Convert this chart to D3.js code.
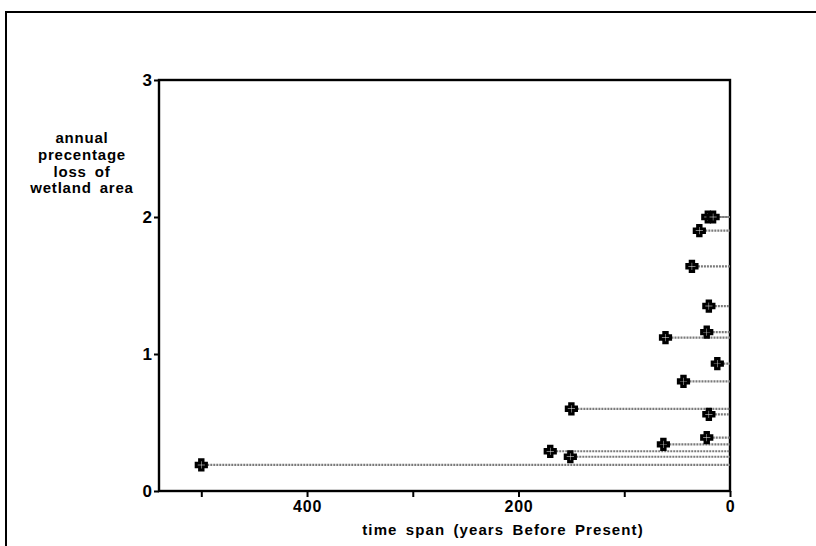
<!DOCTYPE html>
<html>
<head>
<meta charset="utf-8">
<script src="https://cdn.jsdelivr.net/npm/d3@7"></script>
<style>
  body { margin: 0; background: #fff; }
  svg { display: block; }
  text { font-family: "Liberation Sans", Arial, Helvetica, sans-serif; font-weight: bold; fill: #000; }
</style>
</head>
<body>
<div id="chart"></div>
<script>
// start of each time span (years before present) and annual loss (%)
const startYears = [21, 16, 29, 36, 20, 22, 61, 12, 44, 150, 20, 22, 63, 170, 151, 500];
const lossRates = [2.0, 2.0, 1.9, 1.64, 1.35, 1.16, 1.12, 0.93, 0.80, 0.60, 0.56, 0.39, 0.34, 0.29, 0.25, 0.19];
const xTicks = [500, 400, 300, 200, 100, 0];
const xLabelled = [400, 200, 0];
const yTicks = [0, 1, 2, 3];
const yTitle = ["annual", "precentage", "loss of", "wetland area"];

const width = 816, height = 546;
const svg = d3.select("#chart").append("svg")
    .attr("width", width)
    .attr("height", height);

// outer frame (runs off the right and bottom of the page)
svg.append("rect")
    .attr("x", 6).attr("y", 12)
    .attr("width", 840).attr("height", 560)
    .attr("fill", "none")
    .attr("stroke", "#000")
    .attr("stroke-width", 2);

const x = d3.scaleLinear().domain([540, 0]).range([159, 730]);
const y = d3.scaleLinear().domain([0, 3]).range([491, 80]);

const data = startYears.map((s, i) => ({ start: s, loss: lossRates[i] }));

// x axis
const xAxis = svg.append("g")
    .attr("transform", `translate(0,${y(0)})`)
    .call(d3.axisBottom(x)
        .tickValues(xTicks)
        .tickSize(6)
        .tickPadding(4)
        .tickFormat(d => xLabelled.includes(d) ? d : ""));
xAxis.select(".domain").remove();
xAxis.selectAll("line").attr("stroke-width", 2);
xAxis.selectAll("text")
    .attr("font-size", 16)
    .attr("letter-spacing", 0.8)
    .attr("fill", "#000");

// y axis
const yAxis = svg.append("g")
    .attr("transform", `translate(${x(540)},0)`)
    .call(d3.axisLeft(y)
        .tickValues(yTicks)
        .tickSize(5)
        .tickPadding(2)
        .tickFormat(d3.format("d")));
yAxis.select(".domain").remove();
yAxis.selectAll("line").attr("stroke-width", 2);
yAxis.selectAll("text")
    .attr("font-size", 17)
    .attr("fill", "#000");

// plot box
svg.append("rect")
    .attr("x", x(540)).attr("y", y(3))
    .attr("width", x(0) - x(540))
    .attr("height", y(0) - y(3))
    .attr("fill", "none")
    .attr("stroke", "#000")
    .attr("stroke-width", 2.4);

// span lines from start to present
svg.append("g").selectAll("line")
    .data(data)
    .join("line")
    .attr("x1", d => x(d.start))
    .attr("x2", x(0))
    .attr("y1", d => y(d.loss))
    .attr("y2", d => y(d.loss))
    .attr("stroke", "#7a7a7a")
    .attr("stroke-width", 2.2)
    .attr("stroke-dasharray", "2,1");

// markers
svg.append("g").selectAll("path")
    .data(data)
    .join("path")
    .attr("transform", d => `translate(${x(d.start)},${y(d.loss)})`)
    .attr("d", d3.symbol().type(d3.symbolCross).size(58))
    .attr("fill", "#fff")
    .attr("stroke", "#000")
    .attr("stroke-width", 3);

// axis titles
svg.append("text")
    .attr("x", 503)
    .attr("y", 535)
    .attr("text-anchor", "middle")
    .attr("font-size", 15)
    .attr("letter-spacing", 1.1)
    .attr("word-spacing", 3)
    .text("time span (years Before Present)");

svg.append("g").selectAll("text")
    .data(yTitle)
    .join("text")
    .attr("x", 82)
    .attr("y", (d, i) => 143 + i * 16.8)
    .attr("text-anchor", "middle")
    .attr("font-size", 15)
    .attr("letter-spacing", 0.8)
    .attr("word-spacing", 3)
    .text(d => d);
</script>
</body>
</html>
